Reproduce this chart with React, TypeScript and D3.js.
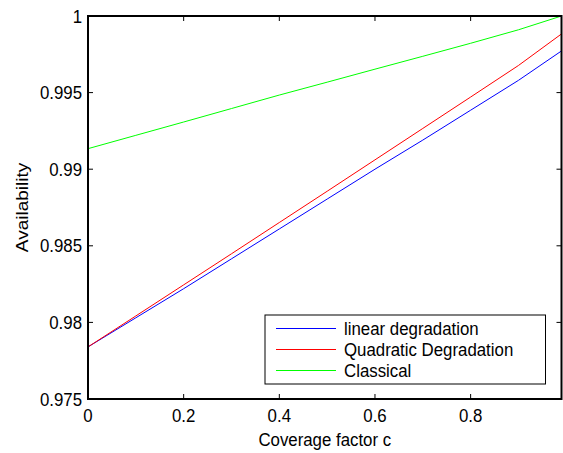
import React from "react";
import * as d3 from "d3";

const coverage = [0, 0.1, 0.2, 0.3, 0.4, 0.5, 0.6, 0.7, 0.8, 0.9, 0.99];
const linearDeg = [0.9784, 0.9803, 0.9822, 0.98415, 0.9861, 0.98805, 0.99, 0.9919, 0.99385, 0.9958, 0.99772];
const quadraticDeg = [0.9784, 0.98042, 0.98245, 0.98448, 0.98652, 0.98856, 0.99061, 0.99266, 0.99471, 0.99677, 0.99883];
const classical = [0.99134, 0.99221, 0.99308, 0.99396, 0.99484, 0.99568, 0.99653, 0.99737, 0.99822, 0.9991, 1.0];

const xTicks = [0, 0.2, 0.4, 0.6, 0.8];
const yTicks = [0.975, 0.98, 0.985, 0.99, 0.995, 1];
const yTickLabels = ["0.975", "0.98", "0.985", "0.99", "0.995", "1"];
const seriesNames = ["linear degradation", "Quadratic Degradation", "Classical"];
const seriesColors = ["#0000ff", "#ff0000", "#00ff00"];

export default function App() {
  const W = 563, H = 453;
  const left = 88, right = 561.5, top = 16, bottom = 399;
  const x = d3.scaleLinear().domain([0, 0.99]).range([left, right]);
  const y = d3.scaleLinear().domain([0.975, 1]).range([bottom, top]);
  const series = [linearDeg, quadraticDeg, classical];
  const line = d3
    .line<number>()
    .x((_, i) => x(coverage[i]))
    .y((d) => y(d));
  const font = "'Liberation Sans', Arial, sans-serif";
  const fs = 18.5;
  const sx = 0.91;
  const tl = 5;

  return (
    <svg width={W} height={H} style={{ position: "absolute", left: 0, top: 0, background: "#fff" }}>
      <rect x={0} y={0} width={W} height={H} fill="#fff" />
      {series.map((s, i) => (
        <path key={i} d={line(s) || ""} fill="none" stroke={seriesColors[i]} strokeWidth={1} />
      ))}
      <rect x={left} y={top} width={right - left} height={bottom - top} fill="none" stroke="#000" strokeWidth={2} />
      {xTicks.map((t, i) => (
        <g key={"xt" + i}>
          <line x1={x(t)} x2={x(t)} y1={bottom} y2={bottom - tl} stroke="#000" strokeWidth={1} />
          <line x1={x(t)} x2={x(t)} y1={top} y2={top + tl} stroke="#000" strokeWidth={1} />
          <text
            transform={`translate(${x(t)},${421.5}) scale(${sx},1)`}
            textAnchor="middle"
            fontFamily={font}
            fontSize={fs}
            fill="#000"
          >
            {String(t)}
          </text>
        </g>
      ))}
      {yTicks.map((t, i) => (
        <g key={"yt" + i}>
          <line x1={left} x2={left + tl} y1={y(t)} y2={y(t)} stroke="#000" strokeWidth={1} />
          <line x1={right} x2={right - tl} y1={y(t)} y2={y(t)} stroke="#000" strokeWidth={1} />
          <text
            transform={`translate(${82},${y(t) + 6.5}) scale(${sx},1)`}
            textAnchor="end"
            fontFamily={font}
            fontSize={fs}
            fill="#000"
          >
            {yTickLabels[i]}
          </text>
        </g>
      ))}
      <text
        transform={`translate(${(left + right) / 2},${446}) scale(${sx},1)`}
        textAnchor="middle"
        fontFamily={font}
        fontSize={fs}
        fill="#000"
      >
        Coverage factor c
      </text>
      <text
        transform={`translate(${28},${(top + bottom) / 2}) rotate(-90) scale(1,${sx})`}
        textAnchor="middle"
        fontFamily={font}
        fontSize={19}
        fill="#000"
      >
        Availability
      </text>
      <rect x={265} y={315} width={280.5} height={69} fill="#fff" stroke="#000" strokeWidth={1} />
      {seriesNames.map((n, i) => {
        const ly = 328.5 + i * 21;
        return (
          <g key={"lg" + i}>
            <line x1={276} x2={336} y1={ly} y2={ly} stroke={seriesColors[i]} strokeWidth={1} />
            <text
              transform={`translate(${344},${ly + 6.5}) scale(${sx},1)`}
              fontFamily={font}
              fontSize={fs}
              fill="#000"
            >
              {n}
            </text>
          </g>
        );
      })}
    </svg>
  );
}
